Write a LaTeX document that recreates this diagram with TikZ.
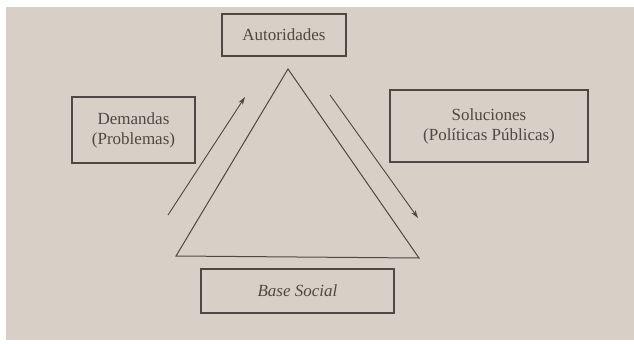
\documentclass[tikz,border=0pt]{standalone}
\usepackage{fontspec}
\setmainfont{Liberation Serif}
\usetikzlibrary{arrows.meta}
\definecolor{page}{RGB}{216,207,198}
\definecolor{ink}{RGB}{78,72,68}
\begin{document}
\begin{tikzpicture}[x=1pt,y=-1pt,
  box/.style={draw=ink,line width=1.1pt,inner sep=0pt,text=ink,font=\fontsize{17}{20}\selectfont,align=center},
  flow/.style={draw=ink,line width=0.9pt,-{Stealth[length=8pt,width=5pt]}},
  tri/.style={draw=ink,line width=1pt,line join=miter}]
\fill[white] (0,0) rectangle (634,343);
\useasboundingbox (0,0) rectangle (634,343);
\fill[page] (6,7) rectangle (634,340);
\node[box,minimum width=124pt,minimum height=42pt] (aut) at (284,35) {Autoridades};
\node[box,minimum width=123pt,minimum height=66pt] (dem) at (133.5,130) {Demandas\\(Problemas)};
\node[box,minimum width=198pt,minimum height=72pt] (sol) at (489,126) {Soluciones\\(Políticas Públicas)};
\node[box,minimum width=193pt,minimum height=44pt,font=\fontsize{17}{20}\selectfont\itshape] (base) at (297.5,291) {Base Social};
\coordinate (ta) at (288,69);
\coordinate (tl) at (176,256);
\coordinate (tr) at (419,258);
\draw[tri] (ta) -- (tl) -- (tr) -- cycle;
\coordinate (l1) at (168,215);
\coordinate (l2) at (245,97);
\coordinate (r1) at (330,95);
\coordinate (r2) at (418,218);
\draw[flow] (l1) -- (l2);
\draw[flow] (r1) -- (r2);
\end{tikzpicture}
\end{document}
